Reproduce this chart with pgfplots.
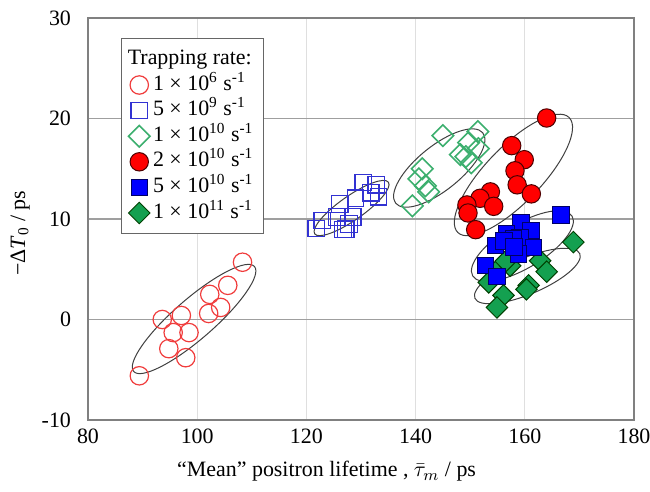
\documentclass[border=0pt]{standalone}
\usepackage{fontspec}
\setmainfont{Liberation Serif}
\usepackage{pgfplots}
\pgfplotsset{compat=1.18}
\definecolor{ored}{RGB}{240,60,60}
\definecolor{oblue}{RGB}{50,50,210}
\definecolor{ogreen}{RGB}{60,175,110}
\definecolor{fred}{RGB}{255,0,0}
\definecolor{fblue}{RGB}{0,0,255}
\definecolor{fgreen}{RGB}{20,160,80}
\tikzset{
 s1/.style={mark=o, mark size=4.6bp, mark options={draw=ored, line width=0.6bp}},
 s2/.style={mark=square, mark size=4.1bp, mark options={draw=oblue, line width=0.6bp}},
 s3/.style={mark=square, mark size=3.8bp, mark options={rotate=45, draw=ogreen, line width=0.8bp}},
 s4/.style={mark=*, mark size=4.6bp, mark options={draw=black!70!red, fill=fred, line width=0.5bp}},
 s5/.style={mark=square*, mark size=4.1bp, mark options={draw=black!60!blue, fill=fblue, line width=0.5bp}},
 s6/.style={mark=square*, mark size=3.8bp, mark options={rotate=45, draw=black!75!green, fill=fgreen, line width=0.5bp}},
 ell/.style={draw=black!75, line width=0.5bp},
}
\begin{document}
\begin{tikzpicture}
\useasboundingbox (-44bp,-36bp) rectangle (281bp,210bp);
\begin{axis}[
 at={(0,0)}, anchor=south west,
 scale only axis, width=273bp, height=201bp,
 xmin=80, xmax=180, ymin=-10, ymax=30,
 xtick={80,100,...,180}, ytick={-10,0,...,30},
 major tick length=0pt,
 axis line style={draw=gray, line width=0.6bp},
 grid=major,
 x grid style={draw=gray!25, line width=0.5bp},
 y grid style={draw=gray!75, line width=0.6bp},
 /pgf/number format/assume math mode=true,
 tick label style={font=\fontsize{11}{13}\selectfont},
 yticklabel style={xshift=-5bp},
 xticklabel style={yshift=-1bp},
 label style={font=\fontsize{11}{13}\selectfont},
 xlabel={“Mean” positron lifetime , $\bar{\tau}_m$ / ps},
 xlabel style={at={(axis description cs:0.437,-0.128)}, anchor=center},
 ylabel={−Δ\textit{T}\textsubscript{0} / ps},
 ylabel style={at={(axis description cs:-0.124,0.465)}, anchor=center},
 legend image code/.code={\draw[#1] plot[only marks] coordinates {(4.6bp,0bp)};},
 legend cell align=left,
 legend style={at={(rel axis cs:0.0605,0.950)}, anchor=north west,
   draw=gray!80!black, line width=0.5bp, inner xsep=3.5bp, inner ysep=4bp,
   font=\fontsize{11}{13}\selectfont, row sep=0pt, column sep=0bp,
   nodes={inner ysep=1.4bp, inner xsep=1.5bp, text height=7.5bp, text depth=2.5bp}},
]
% open red circles
\addplot[only marks, s1, forget plot] coordinates {
(108.3,5.7) (105.6,3.4) (102.3,2.5) (104.3,1.2) (102.1,0.6) (93.6,0.0)
(97.1,0.4) (95.6,-1.3) (98.5,-1.3) (94.8,-2.9) (97.9,-3.8) (89.4,-5.6)};
% open blue squares
\addplot[only marks, s2, forget plot] coordinates {
(121.8,9.07) (122.9,9.87) (126.7,8.94) (125.6,10.2) (128.5,10.2) (127.8,9.5)
(126.1,11.5) (129.0,12.06) (130.4,13.65) (132.8,13.4) (133.2,12.2) (131.8,12.6) (127.2,9.0)};
% open green diamonds
\addplot[only marks, s3, forget plot] coordinates {
(145.0,18.3) (151.4,18.7) (151.5,17.0) (148.2,16.4) (149.7,17.6) (150.2,15.6)
(149.2,16.2) (141.2,15.0) (140.6,14.0) (141.8,13.3) (142.4,12.7) (139.4,11.3)};
% filled green diamonds
\addplot[only marks, s6, forget plot] coordinates {
(168.9,7.7) (162.8,5.85) (164.0,4.76) (160.7,3.4) (160.3,3.0) (156.1,2.4)
(154.9,1.2) (153.4,3.7) (155.5,5.2) (157.3,5.35) (156.5,5.8)};
% filled red circles
\addplot[only marks, s4, forget plot] coordinates {
(164.0,20.05) (157.6,17.3) (159.9,15.9) (158.2,14.8) (158.6,13.4) (161.2,12.5)
(153.7,12.7) (151.8,12.06) (154.3,11.26) (149.4,11.4) (149.6,10.6) (151.0,8.94)};
% filled blue squares
\addplot[only marks, s5, forget plot] coordinates {
(166.6,10.4) (159.3,9.67) (161.1,8.84) (156.7,8.5) (159.1,8.18) (154.6,7.35)
(161.6,7.18) (158.8,6.5) (152.8,5.4) (154.9,4.3) (157.9,8.0) (156.2,7.8) (158.0,7.2)};
% ellipses
\draw[ell, rotate around={41:(axis cs:99.43,0.05)}] (axis cs:99.43,0.05) ellipse [x radius=40bp, y radius=10bp];
\draw[ell, rotate around={35:(axis cs:128.27,11.09)}] (axis cs:128.27,11.09) ellipse [x radius=22.5bp, y radius=6bp];
\draw[ell, rotate around={39:(axis cs:144.33,15.07)}] (axis cs:144.33,15.07) ellipse [x radius=28bp, y radius=11bp];
\draw[ell, rotate around={46:(axis cs:157.92,14.38)}] (axis cs:157.92,14.38) ellipse [x radius=40bp, y radius=14bp];
\draw[ell, rotate around={31:(axis cs:159.56,7.31)}] (axis cs:159.56,7.31) ellipse [x radius=29bp, y radius=11bp];
\draw[ell, rotate around={23:(axis cs:160.47,4.33)}] (axis cs:160.47,4.33) ellipse [x radius=28.5bp, y radius=9bp];
% legend
\addlegendimage{empty legend}\addlegendentry{\hspace{-12.6bp}Trapping rate:\hspace{11.5bp}}
\addlegendimage{s1}\addlegendentry{1 × 10\textsuperscript{6} s\textsuperscript{-1}}
\addlegendimage{s2}\addlegendentry{5 × 10\textsuperscript{9} s\textsuperscript{-1}}
\addlegendimage{s3}\addlegendentry{1 × 10\textsuperscript{10} s\textsuperscript{-1}}
\addlegendimage{s4}\addlegendentry{2 × 10\textsuperscript{10} s\textsuperscript{-1}}
\addlegendimage{s5}\addlegendentry{5 × 10\textsuperscript{10} s\textsuperscript{-1}}
\addlegendimage{s6}\addlegendentry{1 × 10\textsuperscript{11} s\textsuperscript{-1}}
\end{axis}
\end{tikzpicture}
\end{document}
